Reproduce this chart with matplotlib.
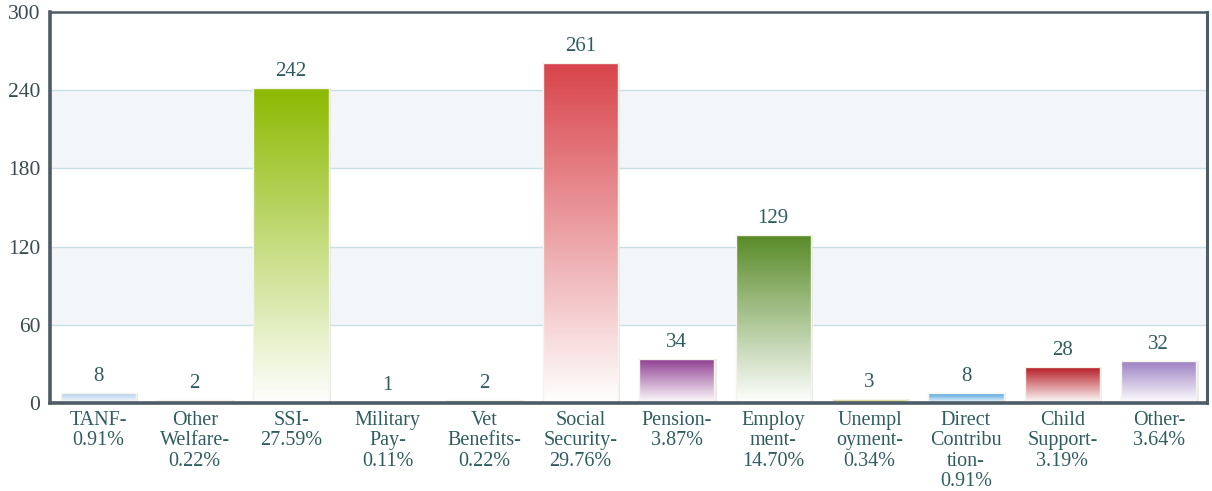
import numpy as np
import matplotlib as mpl
mpl.use('Agg')
import matplotlib.pyplot as plt
from matplotlib.colors import LinearSegmentedColormap

plt.rc('font', family='Liberation Serif')

# data
labels = ['TANF-\n0.91%', 'Other\nWelfare-\n0.22%', 'SSI-\n27.59%', 'Military\nPay-\n0.11%',
          'Vet\nBenefits-\n0.22%', 'Social\nSecurity-\n29.76%', 'Pension-\n3.87%',
          'Employ\nment-\n14.70%', 'Unempl\noyment-\n0.34%', 'Direct\nContribu\ntion-\n0.91%',
          'Child\nSupport-\n3.19%', 'Other-\n3.64%']
values = [8, 2, 242, 1, 2, 261, 34, 129, 3, 8, 28, 32]
top_colors = ['#a9c9ea', '#e8c860', '#8cb900', '#9aa0a8', '#3f8f95', '#d8434a',
              '#8e3b90', '#578a26', '#c9bb4a', '#3596d8', '#b3161e', '#9b80c2']

txt_col = '#2f5d5f'

fig = plt.figure(figsize=(12.12, 4.91), dpi=100)
ax = fig.add_axes([0.0413, 0.1792, 0.9546, 0.7963])

ax.set_xlim(-0.5, len(values) - 0.5)
ax.set_ylim(0, 300)

# alternating bands
for lo in (60, 180):
    ax.axhspan(lo, lo + 60, color='#f2f6f8', zorder=0, lw=0)
for y in (60, 120, 180, 240):
    ax.axhline(y, color='#c9dfe6', lw=1, zorder=0.5)

x = np.arange(len(values))
bw = 0.78
grad = np.linspace(0, 1, 256).reshape(-1, 1)
for i, (v, c) in enumerate(zip(values, top_colors)):
    # soft shadow on right
    ax.bar(x[i] + 0.025, v, width=bw, color='#dcdcdc', alpha=0.6, zorder=1, lw=0)
    b = ax.bar(x[i], v, width=bw, color='none', edgecolor='#f4f4ec', lw=1, zorder=3)[0]
    cmap = LinearSegmentedColormap.from_list('g%d' % i, ['#ffffff', c])
    im = ax.imshow(grad, cmap=cmap, aspect='auto', origin='lower',
                   extent=(x[i] - bw / 2, x[i] + bw / 2, 0, v), zorder=2)
    im.set_clip_path(b)
    ax.annotate(str(v), (x[i], v), xytext=(0, 5), textcoords='offset points',
                ha='center', va='bottom', fontsize=15, color=txt_col)

ax.set_xticks(x)
ax.set_xticklabels(labels, fontsize=14.5, color=txt_col, linespacing=1.08, va='top')
ax.set_yticks([0, 60, 120, 180, 240, 300])
ax.tick_params(axis='both', length=0)
ax.tick_params(axis='x', pad=6)
ax.tick_params(axis='y', labelsize=15.5, labelcolor='#3a4b52', pad=7)

for s in ax.spines.values():
    s.set_color('#4d5c66')
    s.set_linewidth(1.8)
    s.set_zorder(5)
ax.spines['left'].set_linewidth(2.6)
ax.spines['bottom'].set_linewidth(2.6)
ax.spines['right'].set_linewidth(2.2)

plt.savefig('out.png', dpi=100)
